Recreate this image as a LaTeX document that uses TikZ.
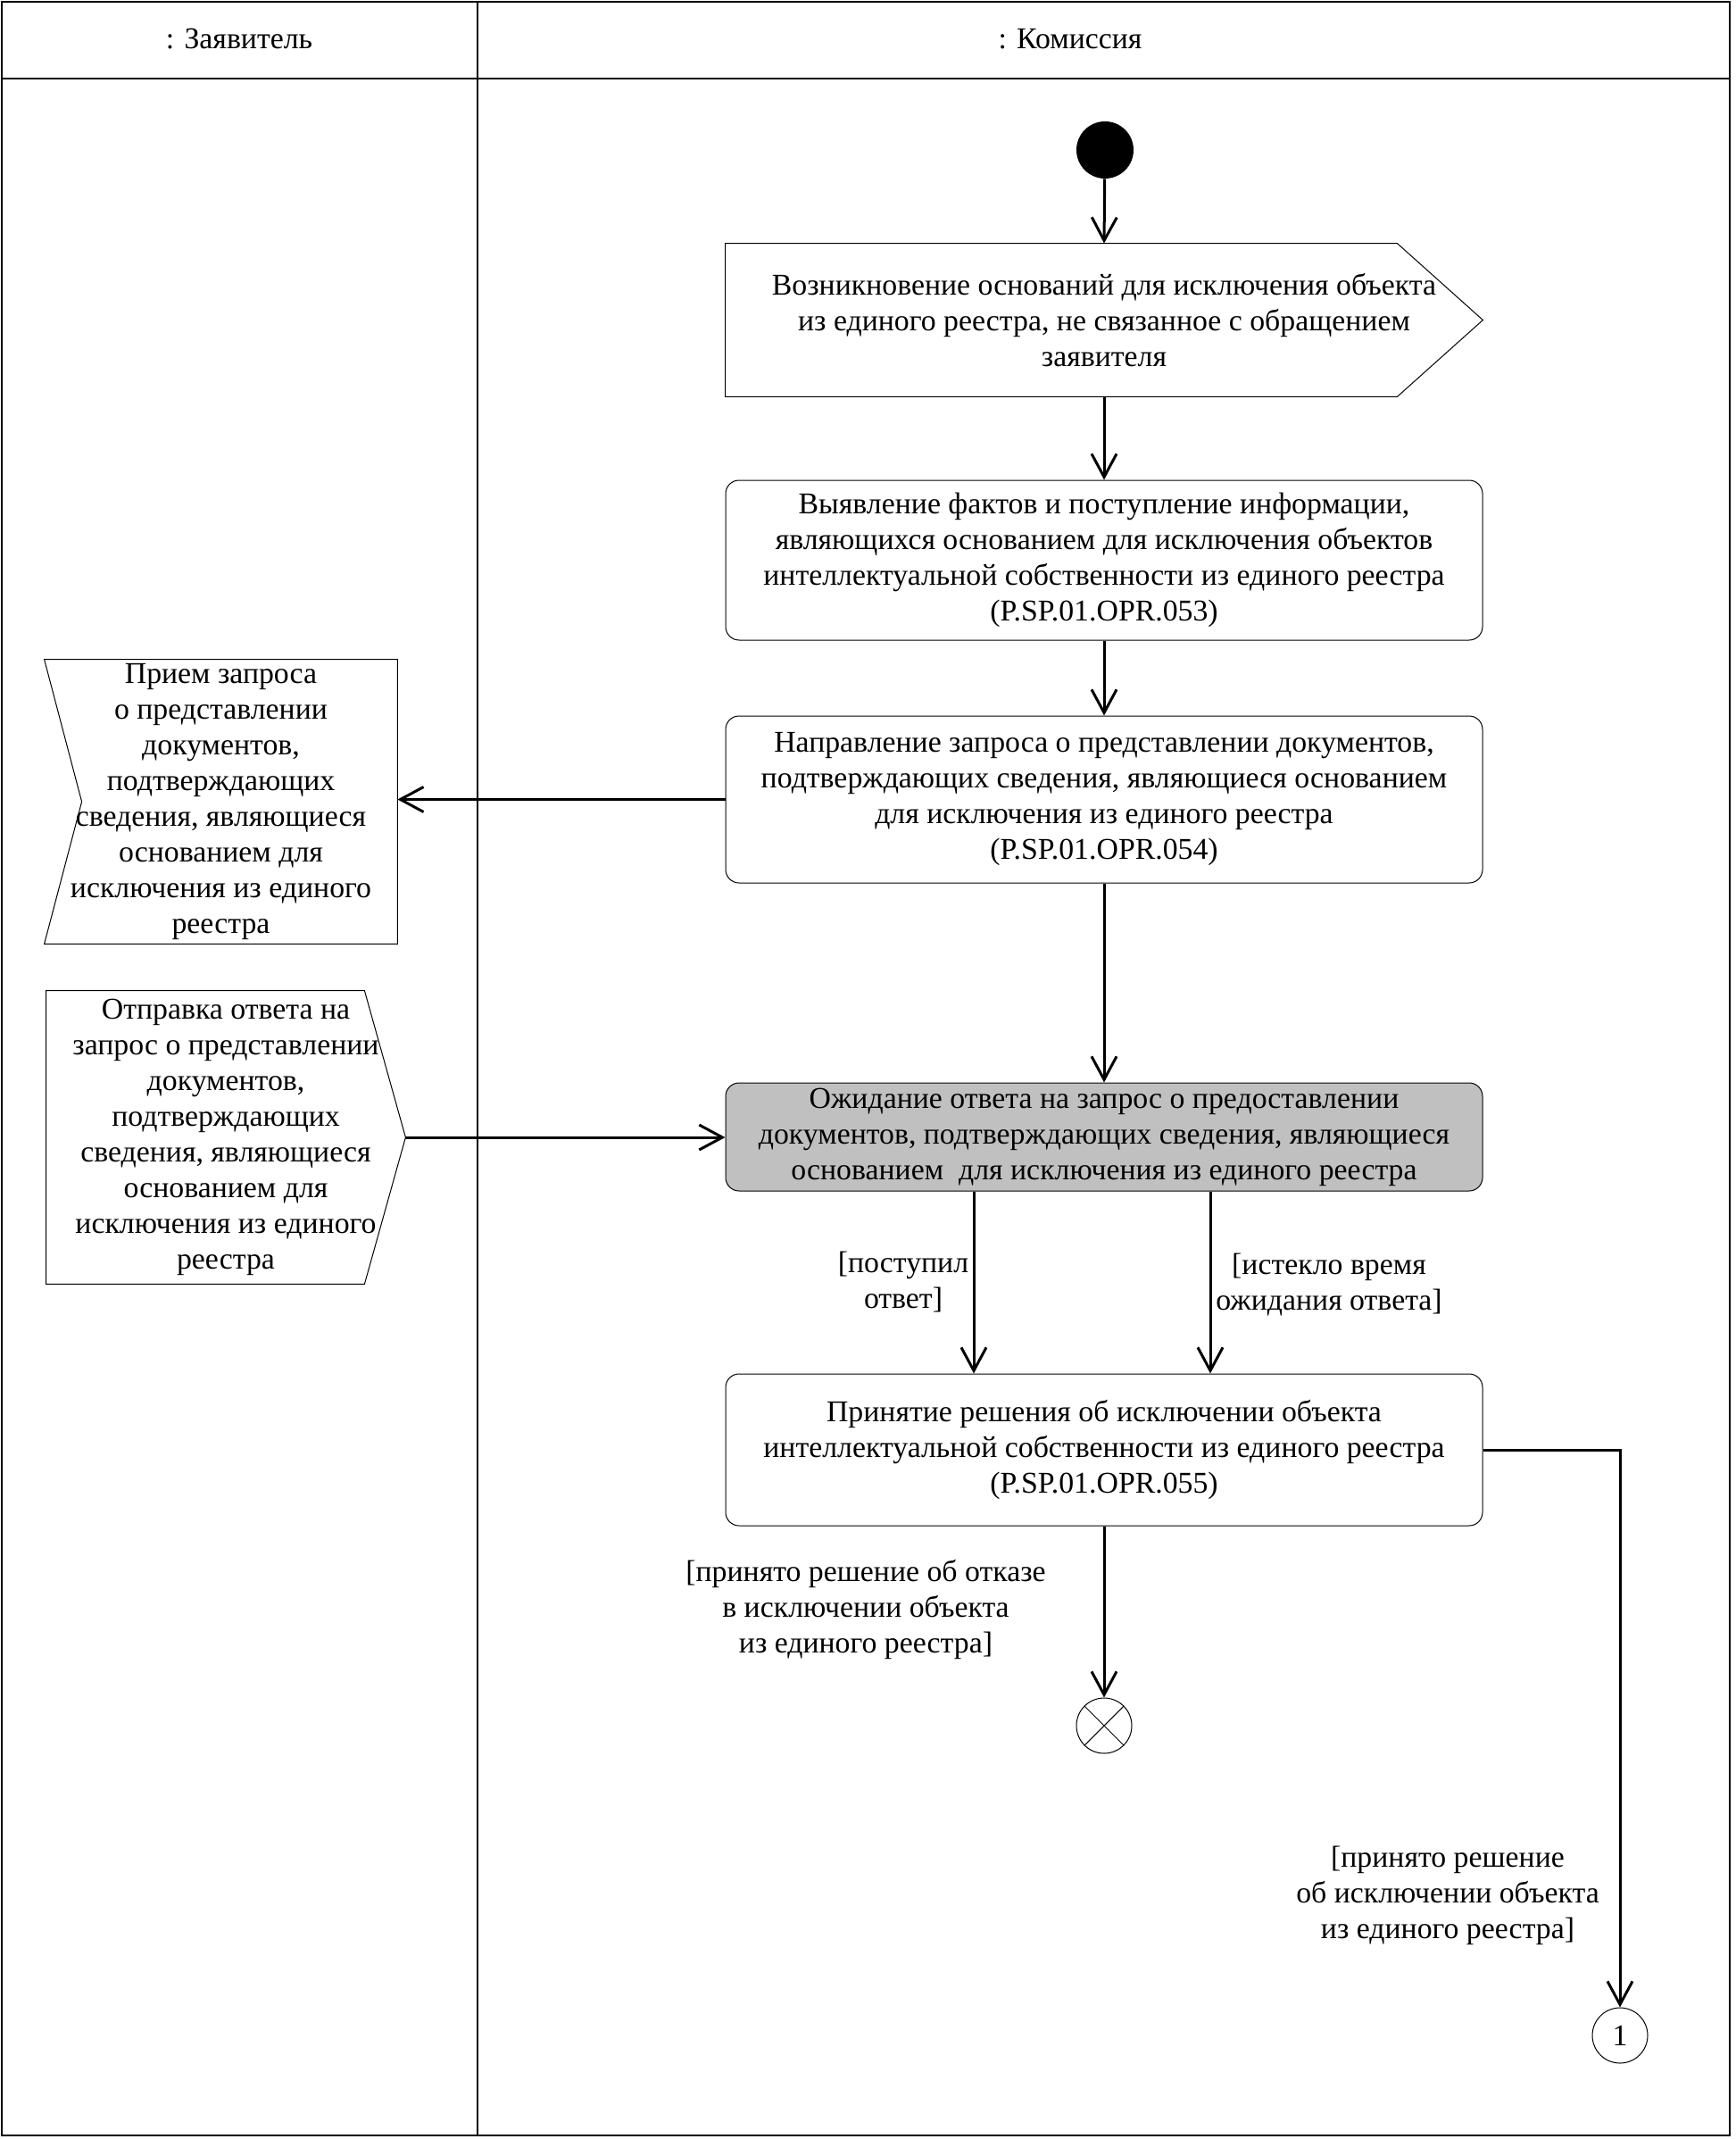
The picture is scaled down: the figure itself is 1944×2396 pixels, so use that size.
\documentclass[tikz,border=0pt]{standalone}
\usepackage{fontspec}
\setmainfont{Liberation Serif}
\usetikzlibrary{arrows.meta,calc}
\definecolor{boxgray}{RGB}{192,192,192}
\begin{document}
\begin{tikzpicture}[x=0.5pt,y=-0.5pt,
  every node/.style={font=\fontsize{16.9pt}{20pt}\selectfont, align=center, inner sep=0pt},
  act/.style={draw, line width=0.5pt, rounded corners=7.5pt, minimum width=424pt},
  outl/.style={line width=0.5pt},
  frame/.style={line width=0.8pt},
  arr/.style={line width=1.5pt, -{Straight Barb[length=13pt,width=14pt,line width=1.5pt]}}
]
\useasboundingbox (0,0) rectangle (1944,2396);
% frame
\draw[frame] (2,2) rectangle (1938,2392);
\draw[frame] (2,88) -- (1938,88);
\draw[frame] (535,2) -- (535,2392);
\node (h1) at (268,44) {: Заявитель};
\node (h2) at (1199,44) {: Комиссия};

% start
\node[circle, fill=black, minimum size=32pt] (st) at (1238,168) {};

% signal send box 1
\node[minimum width=424pt, minimum height=85.5pt] (b1) at (1237,358.5)
  {Возникновение оснований для исключения объекта\\из единого реестра, не связанное с обращением\\заявителя};
\draw[outl] (b1.north west) -- ([xshift=-48pt]b1.north east) -- (b1.east) -- ([xshift=-48pt]b1.south east) -- (b1.south west) -- cycle;

\node[act, minimum height=89.5pt] (b2) at (1237,627.5)
  {Выявление фактов и поступление информации,\\являющихся основанием для исключения объектов\\интеллектуальной собственности из единого реестра\\(P.SP.01.OPR.053)};

\node[act, minimum height=93.5pt] (b3) at (1237,895.5)
  {Направление запроса о представлении документов,\\подтверждающих сведения, являющиеся основанием\\для исключения из единого реестра\\(P.SP.01.OPR.054)};

\node[act, fill=boxgray, minimum height=60.5pt] (b4) at (1237,1273.5)
  {Ожидание ответа на запрос о предоставлении\\документов, подтверждающих сведения, являющиеся\\основанием \ для исключения из единого реестра};

\node[act, minimum height=85pt] (b5) at (1237,1624)
  {Принятие решения об исключении объекта\\интеллектуальной собственности из единого реестра\\(P.SP.01.OPR.055)};

% receive signal
\node[minimum width=197.5pt, minimum height=159pt] (r) at (247.5,898)
  {Прием запроса\\о представлении\\документов,\\подтверждающих\\сведения, являющиеся\\основанием для\\исключения из единого\\реестра};
\draw[outl] (r.north west) -- (r.north east) -- (r.south east) -- (r.south west) -- ([xshift=21pt]r.west) -- cycle;

% send signal
\node[minimum width=201pt, minimum height=164pt] (s) at (253,1274)
  {Отправка ответа на\\запрос о представлении\\документов,\\подтверждающих\\сведения, являющиеся\\основанием для\\исключения из единого\\реестра};
\draw[outl] (s.north west) -- ([xshift=-23pt]s.north east) -- (s.east) -- ([xshift=-23pt]s.south east) -- (s.south west) -- cycle;

% final
\node[circle, draw, line width=0.5pt, minimum size=31pt] (f) at (1237,1933) {};
\draw[line width=0.5pt] (f.north east) -- (f.south west) (f.north west) -- (f.south east);

% connector
\node[circle, draw, line width=0.5pt, minimum size=31pt] (c1) at (1815,2280) {1};

% arrows
\draw[arr] (st) -- (b1.north);
\draw[arr] (b1.south) -- (b2.north);
\draw[arr] (b2.south) -- (b3.north);
\draw[arr] (b3.west) -- (b3.west -| r.east);
\draw[arr] (b3.south) -- (b4.north);
\draw[arr] (s.east) -- (s.east -| b4.west);
\draw[arr] ([xshift=-73pt]b4.south) -- ([xshift=-73pt]b5.north);
\draw[arr] ([xshift=59.5pt]b4.south) -- ([xshift=59.5pt]b5.north);
\draw[arr] (b5.south) -- (f.north);
\draw[arr] (b5.east) -| (c1.north);

% labels
\node (l1) at (1012,1436) {[поступил\\ответ]};
\node (l2) at (1489,1439) {[истекло время\\ожидания ответа]};
\node (l3) at (970,1803) {[принято решение об отказе\\в исключении объекта\\из единого реестра]};
\node (l4) at (1622,2123) {[принято решение\\об исключении объекта\\из единого реестра]};
\end{tikzpicture}
\end{document}
